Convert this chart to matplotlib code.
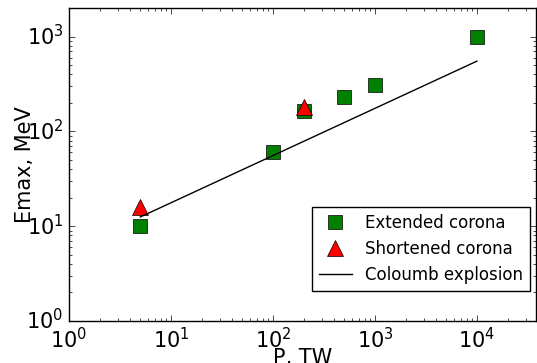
import matplotlib
matplotlib.use("Agg")
import matplotlib.pyplot as plt

plt.style.use('classic')

ext_p = [5, 100, 200, 500, 1000, 10000]
ext_e = [10, 60, 163, 232, 310, 1000]
short_p = [5, 200]
short_e = [16, 182]
coul_p = [5, 10000]
coul_e = [12.5, 550]

fig = plt.figure(figsize=(5.37, 3.63), dpi=100, facecolor='white')
ax = fig.add_axes([69/537, 42/363, 467/537, 313/363])

ax.plot(ext_p, ext_e, 's', color='green', markersize=10, label='Extended corona')
ax.plot(short_p, short_e, '^', color='red', markersize=11, label='Shortened corona')
ax.plot(coul_p, coul_e, '-', color='black', linewidth=1, label='Coloumb explosion')

ax.set_xscale('log')
ax.set_yscale('log')
ax.set_xlim(1, 3.8e4)
ax.set_ylim(1, 2000)
ax.tick_params(labelsize=15)
ax.set_xlabel('P, TW', fontsize=15, labelpad=-3)
ax.set_ylabel('Emax, MeV', fontsize=15, labelpad=-6)
ax.legend(loc='lower right', numpoints=1, fontsize=12,
          bbox_to_anchor=(0.987, 0.096), borderaxespad=0)

fig.savefig('out.png', dpi=100, facecolor='white')
